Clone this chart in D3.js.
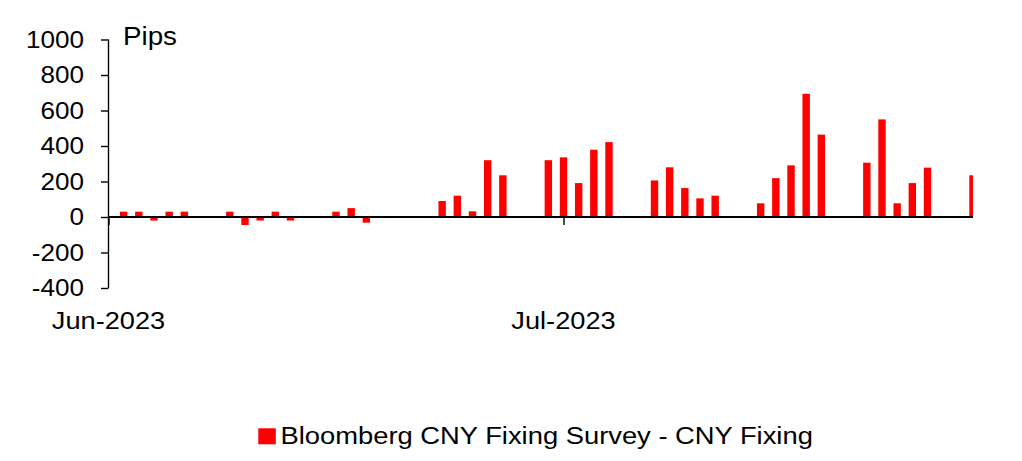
<!DOCTYPE html>
<html>
<head>
<meta charset="utf-8">
<script src="https://cdn.jsdelivr.net/npm/d3@7"></script>
<style>
  html, body { margin: 0; padding: 0; background: #fff; }
  svg { display: block; }
  text { font-family: "Liberation Sans", Arial, sans-serif; fill: #000; }
</style>
</head>
<body>
<svg id="chart" width="1022" height="461"></svg>
<script>
// ---- data ----
const dates = [
  "2023-06-05","2023-06-06","2023-06-07","2023-06-08","2023-06-09",
  "2023-06-12","2023-06-13","2023-06-14","2023-06-15","2023-06-16",
  "2023-06-19","2023-06-20","2023-06-21",
  "2023-06-26","2023-06-27","2023-06-28","2023-06-29","2023-06-30",
  "2023-07-03","2023-07-04","2023-07-05","2023-07-06","2023-07-07",
  "2023-07-10","2023-07-11","2023-07-12","2023-07-13","2023-07-14",
  "2023-07-17","2023-07-18","2023-07-19","2023-07-20","2023-07-21",
  "2023-07-24","2023-07-25","2023-07-26","2023-07-27","2023-07-28",
  "2023-07-31"
];
const values = [
  30, 30, -20, 30, 30,
  30, -45, -20, 30, -20,
  30, 50, -32,
  90, 120, 32, 320, 235,
  320, 336, 191, 379, 422,
  206, 280, 163, 105, 120,
  77, 219, 291, 694, 464,
  306, 550, 77, 191, 278,
  235
];
const yTicks = [-400, -200, 0, 200, 400, 600, 800, 1000];
const xTickDates = ["2023-06-04", "2023-07-04"];
const xTickLabels = ["Jun-2023", "Jul-2023"];
const xDomain = ["2023-06-04", "2023-07-31"];
const seriesName = "Bloomberg CNY Fixing Survey - CNY Fixing";
const unitLabel = "Pips";

// ---- layout ----
const parse = d3.utcParse("%Y-%m-%d");
const plotL = 108.5, plotR = 973, plotT = 39.5, plotB = 288;
const sx = 1.11; // horizontal text stretch of the reference

const svg = d3.select("#chart");

const x = d3.scaleUtc().domain(xDomain.map(parse)).range([plotL, plotR]);
const y = d3.scaleLinear().domain([-400, 1000]).range([plotB, plotT]);

svg.append("defs").append("clipPath").attr("id", "plotClip")
  .append("rect").attr("x", plotL).attr("y", 0).attr("width", plotR - plotL).attr("height", 461);

// bars
const barW = 7.4;
svg.append("g").attr("clip-path", "url(#plotClip)")
  .selectAll("rect").data(dates.map((d, i) => ({ d: parse(d), v: values[i] })))
  .join("rect")
  .attr("x", d => x(d.d) - barW / 2)
  .attr("width", barW)
  .attr("y", d => Math.min(y(d.v), y(0)))
  .attr("height", d => Math.abs(y(d.v) - y(0)))
  .attr("fill", "#ff0000");

// y axis
const yAxis = d3.axisLeft(y).tickValues(yTicks).tickSize(7.5).tickFormat("");
const gy = svg.append("g").attr("transform", `translate(${plotL},0)`).call(yAxis);
gy.select(".domain").attr("stroke", "#000").attr("stroke-width", 1.4).attr("d", `M0,${plotT}V${plotB}`);
gy.selectAll(".tick line").attr("stroke", "#000").attr("stroke-width", 1.4);

// y tick labels
svg.append("g").selectAll("text").data(yTicks).join("text")
  .attr("transform", d => `translate(84,${y(d) + 8.3}) scale(${sx},1)`)
  .attr("text-anchor", "end")
  .style("font-size", "23.5px")
  .text(d => d);

// x axis at zero
const xAxis = d3.axisBottom(x).tickValues(xTickDates.map(parse)).tickSize(8).tickFormat("");
const gx = svg.append("g").attr("transform", `translate(0,${y(0)})`).call(xAxis);
gx.select(".domain").attr("stroke", "#000").attr("stroke-width", 2).attr("d", `M${plotL},0H${plotR}`);
gx.selectAll(".tick line").attr("stroke", "#000").attr("stroke-width", 1.4);

// x tick labels
svg.append("g").selectAll("text").data(xTickDates).join("text")
  .attr("transform", (d, i) => `translate(${x(parse(d))},329.3) scale(${sx},1)`)
  .attr("text-anchor", "middle")
  .style("font-size", "24.5px")
  .text((d, i) => xTickLabels[i]);

// unit label
svg.append("text")
  .attr("transform", `translate(123,45) scale(${sx},1)`)
  .style("font-size", "25px")
  .text(unitLabel);

// legend
svg.append("rect").attr("x", 258.3).attr("y", 428.3).attr("width", 17.5).attr("height", 16).attr("fill", "#ff0000");
svg.append("text")
  .attr("transform", `translate(280.5,444.3) scale(1.14,1)`)
  .style("font-size", "24px")
  .text(seriesName);
</script>
</body>
</html>
